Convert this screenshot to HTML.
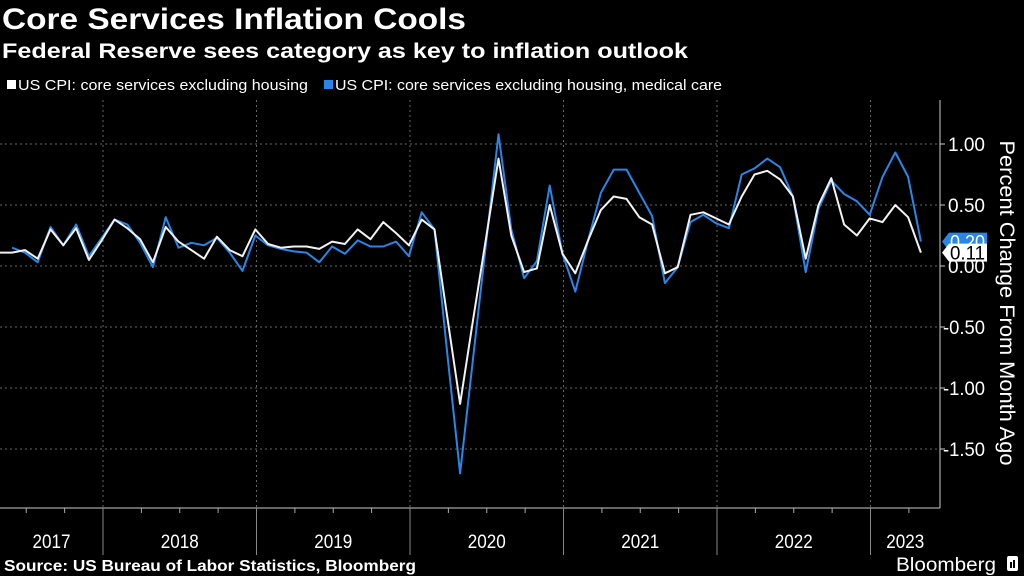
<!DOCTYPE html>
<html><head><meta charset="utf-8"><style>
html,body{margin:0;padding:0;background:#000;width:1024px;height:576px;overflow:hidden}
svg{display:block;font-family:"Liberation Sans Narrow","Liberation Sans",sans-serif}
</style></head><body>
<svg id="chart" width="1024" height="576" viewBox="0 0 1024 576" xmlns="http://www.w3.org/2000/svg">
<rect width="1024" height="576" fill="#000"/>
<text x="2" y="29" fill="#fff" font-size="30" font-weight="bold" textLength="464" lengthAdjust="spacingAndGlyphs">Core Services Inflation Cools</text>
<text x="2" y="58" fill="#fff" font-size="21" font-weight="bold" textLength="686" lengthAdjust="spacingAndGlyphs">Federal Reserve sees category as key to inflation outlook</text>
<g>
<g><rect x="7" y="80" width="9" height="9" fill="#fff"/><text x="18" y="90" fill="#fff" font-size="15" textLength="290" lengthAdjust="spacingAndGlyphs">US CPI: core services excluding housing</text></g>
<g><rect x="324" y="80" width="9" height="9" fill="#2a86e6"/><text x="335" y="90" fill="#fff" font-size="15" textLength="387" lengthAdjust="spacingAndGlyphs">US CPI: core services excluding housing, medical care</text></g>
</g>
<g id="grid"></g>
<g id="xaxis"></g>
<g id="yaxis"></g>
<g id="series"></g>
<g id="tags"></g>
<text transform="translate(1000,303) rotate(90)" text-anchor="middle" fill="#fff" font-size="21" textLength="325" lengthAdjust="spacingAndGlyphs">Percent Change From Month Ago</text>
<text x="4" y="571" fill="#fff" font-size="16" font-weight="bold" textLength="412" lengthAdjust="spacingAndGlyphs">Source: US Bureau of Labor Statistics, Bloomberg</text>
<g><text x="896" y="571" fill="#fff" font-size="19" textLength="100" lengthAdjust="spacingAndGlyphs">Bloomberg</text><rect x="1007" y="556" width="11" height="15" rx="2" fill="#fff"/><rect x="1010" y="562" width="2" height="6" fill="#000"/><rect x="1013" y="560" width="2" height="8" fill="#000"/></g>
</svg>
<script>
const yearLabels=["2017","2018","2019","2020","2021","2022","2023"];
const yTicks=[1.0,0.5,0.0,-0.5,-1.0,-1.5];
const yTickLabels=["1.00","0.50","0.00","-0.50","-1.00","-1.50"];
// monthly, index 0 = May 2017
const coreExHousing=[0.11,0.11,0.13,0.06,0.30,0.17,0.31,0.05,0.21,0.38,0.31,0.22,0.03,0.32,0.20,0.13,0.06,0.24,0.13,0.08,0.30,0.18,0.15,0.16,0.16,0.14,0.20,0.18,0.30,0.22,0.36,0.27,0.17,0.38,0.30,-0.42,-1.13,-0.45,0.21,0.88,0.25,-0.05,-0.02,0.50,0.10,-0.06,0.21,0.46,0.57,0.55,0.40,0.34,-0.06,-0.01,0.42,0.44,0.39,0.34,0.57,0.75,0.78,0.71,0.57,0.06,0.50,0.72,0.34,0.25,0.39,0.36,0.50,0.40,0.11];
const coreExHousingMedical=[null,0.15,0.11,0.03,0.32,0.17,0.34,0.08,0.23,0.38,0.34,0.19,-0.01,0.40,0.15,0.19,0.17,0.23,0.11,-0.04,0.25,0.17,0.14,0.12,0.11,0.03,0.16,0.10,0.21,0.16,0.16,0.20,0.08,0.44,0.30,-0.72,-1.70,-0.77,0.16,1.08,0.30,-0.10,0.04,0.66,0.10,-0.21,0.21,0.60,0.79,0.79,0.60,0.41,-0.14,-0.01,0.36,0.42,0.35,0.31,0.75,0.80,0.88,0.81,0.57,-0.05,0.47,0.70,0.59,0.53,0.42,0.73,0.93,0.73,0.20];
const NS="http://www.w3.org/2000/svg";
const X0=-0.7, DX=12.8, JAN_IDX=8, YEAR_W=153.5, PLOT_R=940, PLOT_T=100, PLOT_B=508;
function x(i){return X0+DX*i;}
function y(v){return 266-122*v;}
function mk(tag,attrs,parent){const e=document.createElementNS(NS,tag);for(const k in attrs)e.setAttribute(k,attrs[k]);parent.appendChild(e);return e;}
const grid=document.getElementById('grid'),xa=document.getElementById('xaxis'),ya=document.getElementById('yaxis'),ser=document.getElementById('series'),tags=document.getElementById('tags');
yTicks.forEach((t,k)=>{
  const g=mk('line',{x1:0,x2:PLOT_R,y1:y(t),y2:y(t),stroke:'#666','stroke-width':1,'stroke-dasharray':'2,3'},grid);
  
  
  const tk=mk('line',{x1:PLOT_R,x2:PLOT_R+5,y1:y(t),y2:y(t),stroke:'#ccc'},ya);
  
  
  const lab=yTickLabels[k];
  const tl=mk('text',{x:PLOT_R+(lab.length>4?3:8),y:y(t)+7,fill:'#fff','font-size':19,textLength:lab.length>4?42:37,lengthAdjust:'spacingAndGlyphs'},ya);
  
  
  tl.textContent=lab;
});
const al=mk('line',{x1:PLOT_R,x2:PLOT_R,y1:PLOT_T,y2:PLOT_B,stroke:'#ccc'},ya);


const bl=mk('line',{x1:0,x2:PLOT_R,y1:PLOT_B,y2:PLOT_B,stroke:'#ccc'},xa);


const jan2018=x(JAN_IDX)+1.3;
yearLabels.forEach((lab,k)=>{
  const start=jan2018+(k-1)*YEAR_W;
  if(k>0){
    const v=mk('line',{x1:start,x2:start,y1:PLOT_T,y2:PLOT_B,stroke:'#666','stroke-dasharray':'2,3'},grid);
    
    
    const d=mk('line',{x1:start,x2:start,y1:PLOT_B,y2:555,stroke:'#888'},xa);
    
    
  }
  for(let q=1;q<4;q++){
    const tx=start+q*YEAR_W/4;
    if(tx>0&&tx<PLOT_R){const t=mk('line',{x1:tx,x2:tx,y1:PLOT_B,y2:PLOT_B+5,stroke:'#aaa'},xa);
    
    }
  }
  const end=Math.min(start+YEAR_W,PLOT_R), s=Math.max(start,0);
  const t=mk('text',{x:(s+end)/2,y:548,fill:'#fff','font-size':19,'text-anchor':'middle',textLength:38,lengthAdjust:'spacingAndGlyphs'},xa);
  
  
  t.textContent=lab;
});
function pathOf(arr){let d='';arr.forEach((v,i)=>{if(v===null)return;d+=(d?'L':'M')+x(i).toFixed(1)+','+y(v).toFixed(1);});return d;}
const pb=mk('path',{d:pathOf(coreExHousingMedical),fill:'none',stroke:'#2a86e6','stroke-width':2,'stroke-linejoin':'round'},ser);


const pw=mk('path',{d:pathOf(coreExHousing),fill:'none',stroke:'#f2f2f2','stroke-width':2,'stroke-linejoin':'round'},ser);


function tag(v,fill,color,name){
  const yy=y(v);
  const g=mk('g',{},tags);
  
  
  mk('path',{d:`M${PLOT_R+2},${yy} L${PLOT_R+9},${yy-9} L${PLOT_R+47},${yy-9} L${PLOT_R+47},${yy+9} L${PLOT_R+9},${yy+9} Z`,fill:fill},g);
  const t=mk('text',{x:PLOT_R+10,y:yy+7,fill:color,'font-size':19,textLength:35,lengthAdjust:'spacingAndGlyphs'},g);
  t.textContent=v.toFixed(2);
}
tag(coreExHousingMedical[coreExHousingMedical.length-1],'#2a86e6','#fff','last-value-tag-medical');
tag(coreExHousing[coreExHousing.length-1],'#fff','#000','last-value-tag-core');
</script>
</body></html>
